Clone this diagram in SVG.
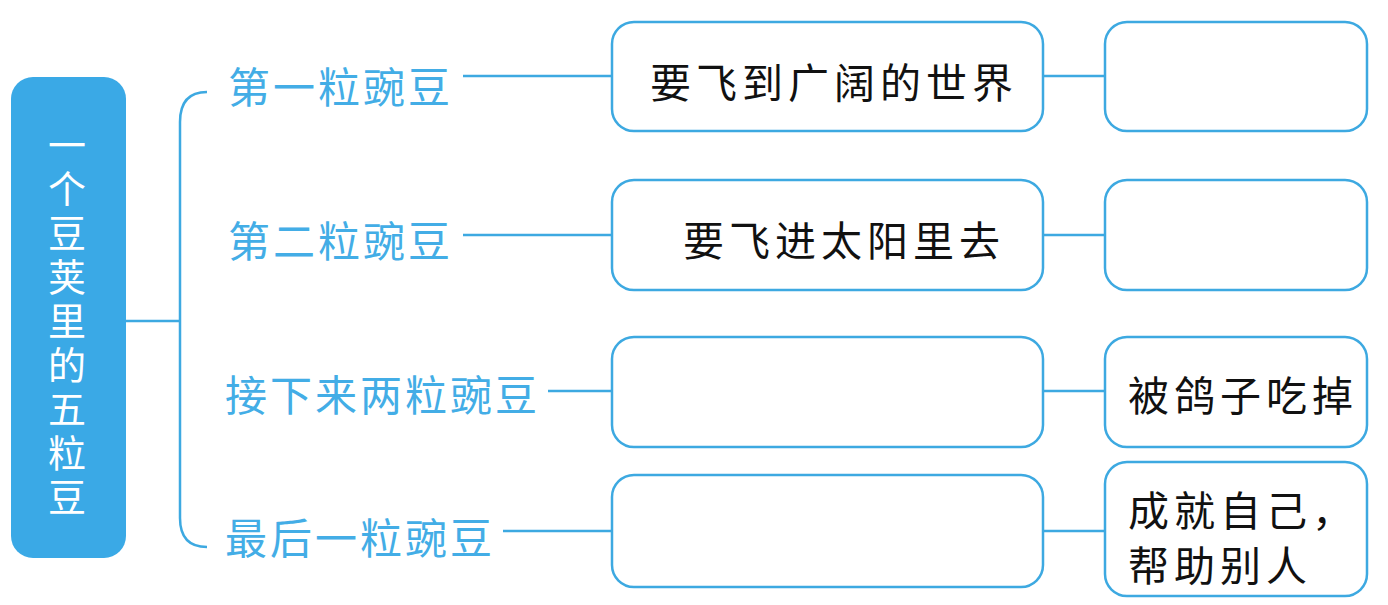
<svg xmlns="http://www.w3.org/2000/svg" width="1388" height="605" viewBox="0 0 1388 605">
<style>
.box{fill:#ffffff;stroke:#3da9e1;stroke-width:2.5}
.ln{fill:none;stroke:#3da9e1;stroke-width:2.5}
.lbl{font-family:"Noto Sans CJK SC","Noto Sans CJK TC",sans-serif;font-size:42px;fill:#43ade6;letter-spacing:3px;dominant-baseline:central}
.txt{font-family:"Noto Sans CJK SC","Noto Sans CJK TC",sans-serif;font-size:41px;fill:#111111;letter-spacing:5px;dominant-baseline:central}
.ttl{font-family:"Noto Sans CJK SC","Noto Sans CJK TC",sans-serif;font-size:38px;fill:#ffffff;writing-mode:vertical-rl;letter-spacing:6px}
</style>
<rect width="1388" height="605" fill="#ffffff"/>
<g id="connectors">
<line class="ln" x1="126" y1="321" x2="180" y2="321"/>
<path class="ln" d="M207,92 Q180,92 180,122 L180,518 Q180,547 207,547"/>
<line class="ln" x1="463" y1="76" x2="612" y2="76"/>
<line class="ln" x1="463" y1="235" x2="612" y2="235"/>
<line class="ln" x1="548" y1="391" x2="612" y2="391"/>
<line class="ln" x1="503" y1="531" x2="612" y2="531"/>
<line class="ln" x1="1043" y1="76" x2="1105" y2="76"/>
<line class="ln" x1="1043" y1="235" x2="1105" y2="235"/>
<line class="ln" x1="1043" y1="391" x2="1105" y2="391"/>
<line class="ln" x1="1043" y1="531" x2="1105" y2="531"/>
</g>
<g id="root">
<rect x="11" y="77" width="115" height="481" rx="22" fill="#3aa9e6"/>
<text class="ttl" x="67" y="126">一个豆荚里的五粒豆</text>
</g>
<g id="label1"><text class="lbl" x="228" y="84">第一粒豌豆</text></g>
<g id="label2"><text class="lbl" x="228" y="238">第二粒豌豆</text></g>
<g id="label3"><text class="lbl" x="225" y="392">接下来两粒豌豆</text></g>
<g id="label4"><text class="lbl" x="225" y="535">最后一粒豌豆</text></g>
<g id="mid1"><rect class="box" x="612" y="22" width="431" height="109" rx="22"/><text class="txt" x="650" y="80">要飞到广阔的世界</text></g>
<g id="mid2"><rect class="box" x="612" y="180" width="431" height="110" rx="22"/><text class="txt" x="683" y="238">要飞进太阳里去</text></g>
<g id="mid3"><rect class="box" x="612" y="337" width="431" height="110" rx="22"/></g>
<g id="mid4"><rect class="box" x="612" y="475" width="431" height="112" rx="22"/></g>
<g id="right1"><rect class="box" x="1105" y="22" width="262" height="109" rx="22"/></g>
<g id="right2"><rect class="box" x="1105" y="180" width="262" height="110" rx="22"/></g>
<g id="right3"><rect class="box" x="1105" y="337" width="262" height="110" rx="22"/><text class="txt" x="1128" y="393">被鸽子吃掉</text></g>
<g id="right4"><rect class="box" x="1105" y="462" width="262" height="134" rx="22"/><text class="txt" x="1128" y="508">成就自己，</text><text class="txt" x="1128" y="563">帮助别人</text></g>
</svg>
